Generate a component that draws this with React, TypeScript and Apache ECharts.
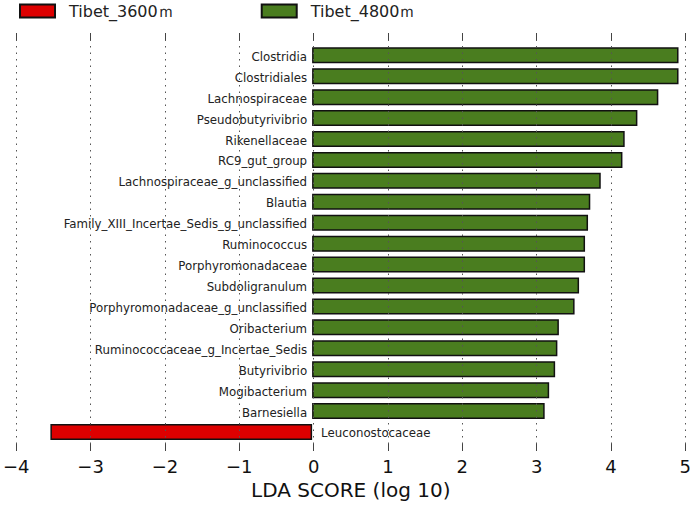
import React, { useEffect, useRef } from "react";
import * as echarts from "echarts";

const categories = [
  "Clostridia",
  "Clostridiales",
  "Lachnospiraceae",
  "Pseudobutyrivibrio",
  "Rikenellaceae",
  "RC9_gut_group",
  "Lachnospiraceae_g_unclassified",
  "Blautia",
  "Family_XIII_Incertae_Sedis_g_unclassified",
  "Ruminococcus",
  "Porphyromonadaceae",
  "Subdoligranulum",
  "Porphyromonadaceae_g_unclassified",
  "Oribacterium",
  "Ruminococcaceae_g_Incertae_Sedis",
  "Butyrivibrio",
  "Mogibacterium",
  "Barnesiella",
  "Leuconostocaceae",
];

const tibet4800 = [
  4.9, 4.9, 4.63, 4.35, 4.18, 4.15, 3.86, 3.72, 3.69, 3.65, 3.65, 3.57, 3.51,
  3.3, 3.28, 3.25, 3.17, 3.11, null,
];

const tibet3600 = [
  null, null, null, null, null, null, null, null, null, null, null, null, null,
  null, null, null, null, null, -3.5,
];

const seriesNames = ["Tibet_3600ｍ", "Tibet_4800ｍ"];
const xTicks = { min: -4, max: 5, interval: 1 };

const FONT = "DejaVu Sans";

export default function App() {
  const ref = useRef<HTMLDivElement>(null);
  useEffect(() => {
    if (!ref.current) return;
    const chart = echarts.init(ref.current, null, { renderer: "svg" });
    const minus = (v: number) => String(v).replace("-", "\u2212");
    chart.setOption({
      animation: false,
      backgroundColor: "#ffffff",
      textStyle: { fontFamily: FONT },
      legend: {
        left: 19,
        top: 3,
        padding: 0,
        itemWidth: 35,
        itemHeight: 13,
        itemGap: 87,
        icon: "rect",
        data: seriesNames,
        textStyle: {
          fontFamily: FONT,
          fontSize: 16,
          color: "#222",
          padding: [0, 0, 0, 9],
        },
      },
      grid: [
        { left: 13, right: 8, top: 33, bottom: 53 },
        { left: 13, right: 8, top: 44.85, bottom: 62.54 },
      ],
      xAxis: [
        {
          gridIndex: 0,
          type: "value",
          position: "bottom",
          min: xTicks.min,
          max: xTicks.max,
          interval: xTicks.interval,
          z: 5,
          axisLine: { show: false },
          axisTick: {
            show: true,
            inside: true,
            length: 7,
            lineStyle: { color: "#444", width: 1 },
          },
          axisLabel: {
            fontSize: 18,
            fontFamily: FONT,
            color: "#111",
            margin: 6,
            formatter: minus,
          },
          splitLine: {
            show: true,
            lineStyle: { type: [1.5, 5], color: "#555", width: 1 },
          },
          name: "LDA SCORE (log 10)",
          nameLocation: "middle",
          nameGap: 29,
          nameTextStyle: { fontSize: 20, fontFamily: FONT, color: "#111" },
        },
        {
          gridIndex: 0,
          type: "value",
          position: "top",
          min: xTicks.min,
          max: xTicks.max,
          interval: xTicks.interval,
          z: 5,
          axisLine: { show: false },
          axisTick: {
            show: true,
            inside: true,
            length: 7,
            lineStyle: { color: "#444", width: 1 },
          },
          axisLabel: { show: false },
          splitLine: { show: false },
        },
        {
          gridIndex: 1,
          type: "value",
          min: xTicks.min,
          max: xTicks.max,
          show: false,
        },
      ],
      yAxis: [
        { gridIndex: 0, type: "value", show: false },
        {
          gridIndex: 1,
          type: "category",
          data: categories,
          inverse: true,
          show: false,
        },
      ],
      series: [
        {
          name: seriesNames[0],
          type: "bar",
          xAxisIndex: 2,
          yAxisIndex: 1,
          data: tibet3600,
          barWidth: 16,
          barGap: "-100%",
          itemStyle: { color: "#dd0000", borderColor: "#111", borderWidth: 1.5 },
          label: {
            show: true,
            position: "right",
            distance: 9,
            offset: [0, 1.5],
            formatter: "{b}",
            fontSize: 11.8,
            fontFamily: FONT,
            color: "#222",
          },
        },
        {
          name: seriesNames[1],
          type: "bar",
          xAxisIndex: 2,
          yAxisIndex: 1,
          data: tibet4800,
          barWidth: 16,
          barGap: "-100%",
          itemStyle: { color: "#4a7d1f", borderColor: "#111", borderWidth: 1.5 },
          label: {
            show: true,
            position: "left",
            distance: 5,
            offset: [0, 1.5],
            formatter: "{b}",
            fontSize: 11.8,
            fontFamily: FONT,
            color: "#222",
          },
        },
      ],
    });
    return () => chart.dispose();
  }, []);
  return (
    <div
      ref={ref}
      style={{ position: "fixed", top: 0, left: 0, width: 694, height: 505 }}
    />
  );
}
